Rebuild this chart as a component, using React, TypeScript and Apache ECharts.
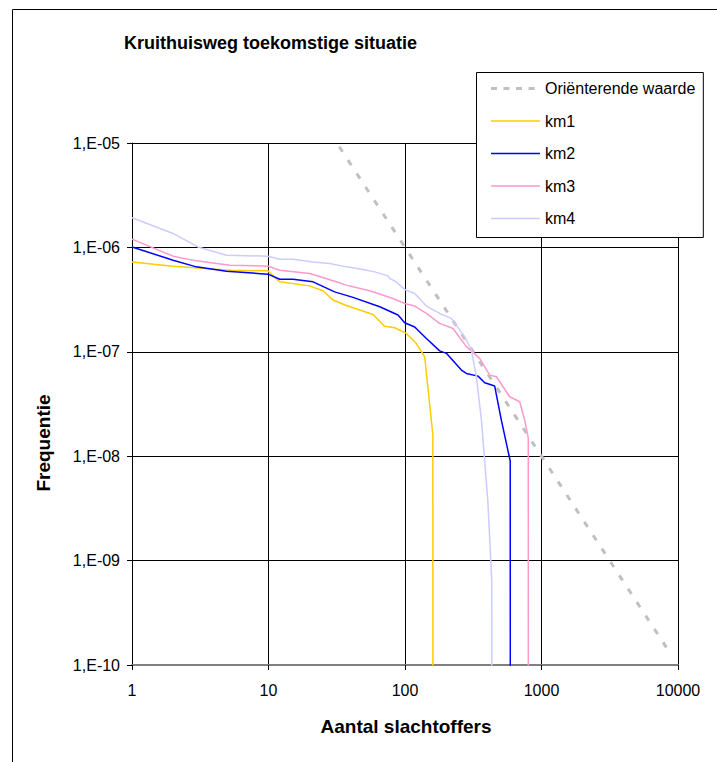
import React, { useEffect, useRef } from "react";
import * as echarts from "echarts";

const FONT = "'Liberation Sans', Arial, Helvetica, sans-serif";

const titleText = "Kruithuisweg toekomstige situatie";
const xTitle = "Aantal slachtoffers";
const yTitle = "Frequentie";

const seriesNames = ["Oriënterende waarde", "km1", "km2", "km3", "km4"];
const seriesColors = ["#C0C0C0", "#FFCC00", "#0000FF", "#FF99CC", "#CCCCFF"];

// Oriënterende waarde (N, F)
const orientN = [33, 9000];
const orientF = [9.2e-6, 1.23e-10];

// km1
const km1N = [1, 2.0, 5.2, 9.9, 12.1, 20, 25.1, 29.7, 37.2, 58.3, 71.0, 84.1, 102.4, 121.2, 139.4, 147, 160, 161];
const km1F = [7.26e-7, 6.61e-7, 6.05e-7, 5.96e-7, 4.68e-7, 4.28e-7, 3.84e-7, 3.13e-7, 2.78e-7, 2.28e-7, 1.76e-7, 1.7e-7, 1.5e-7, 1.2e-7, 8.96e-8, 4.6e-8, 1.6e-8, 1e-30];

// km2
const km2N = [1, 2.0, 2.96, 4.92, 9.9, 12.1, 15.1, 21.2, 30.5, 41.6, 65.3, 88.9, 99.5, 117.8, 143.5, 179.5, 201, 258.9, 281.7, 342.6, 383.7, 454, 508, 590, 598];
const km2F = [1.01e-6, 7.54e-7, 6.51e-7, 5.92e-7, 5.54e-7, 4.96e-7, 4.96e-7, 4.68e-7, 3.75e-7, 3.32e-7, 2.7e-7, 2.25e-7, 1.9e-7, 1.73e-7, 1.34e-7, 1.02e-7, 9.66e-8, 6.68e-8, 6.21e-8, 5.85e-8, 5.05e-8, 4.7e-8, 2.22e-8, 9e-9, 1e-30];

// km3
const km3N = [1, 2.0, 2.96, 5.2, 9.9, 12.1, 20, 31.4, 37.2, 41.6, 55.1, 81.7, 99.5, 117.8, 143.5, 179.5, 224.7, 281.7, 352.5, 417.4, 467.4, 584.8, 692, 753, 800, 807];
const km3F = [1.2e-6, 8.24e-7, 7.43e-7, 6.76e-7, 6.61e-7, 6.05e-7, 5.62e-7, 4.68e-7, 4.35e-7, 4.19e-7, 3.84e-7, 3.24e-7, 2.9e-7, 2.74e-7, 2.33e-7, 1.87e-7, 1.67e-7, 1.12e-7, 8.65e-8, 5.98e-8, 5.77e-8, 3.71e-8, 3.32e-8, 2.22e-8, 1.5e-8, 1e-30];

// km4
const km4N = [1, 2.0, 3.04, 4.92, 9.9, 12.1, 15.1, 21.2, 28.1, 37.2, 49.2, 60.0, 75.1, 77.3, 86.5, 99.5, 117.8, 143.5, 179.5, 218.6, 273.6, 306.5, 333.4, 363.1, 404, 432, 440];
const km4F = [1.92e-6, 1.36e-6, 1.01e-6, 8.42e-7, 8.24e-7, 7.71e-7, 7.71e-7, 7.26e-7, 7.01e-7, 6.51e-7, 6.14e-7, 5.83e-7, 5.34e-7, 5.04e-7, 4.68e-7, 3.95e-7, 3.62e-7, 2.74e-7, 2.33e-7, 2.09e-7, 1.39e-7, 1.04e-7, 5.77e-8, 2.22e-8, 3.8e-9, 6.5e-10, 1e-30];

const xMin = 1;
const xMax = 10000;
const yMin = 1e-10;
const yMax = 1e-5;

const zip = (a: number[], b: number[]) => a.map((v, i) => [v, b[i]]);

export default function App() {
  const ref = useRef<HTMLDivElement>(null);

  useEffect(() => {
    document.body.style.margin = "0";
    document.body.style.overflow = "hidden";
    if (!ref.current) return;
    const chart = echarts.init(ref.current, null, { renderer: "svg" });

    const dataSets = [
      zip(orientN, orientF),
      zip(km1N, km1F),
      zip(km2N, km2F),
      zip(km3N, km3F),
      zip(km4N, km4F),
    ];

    const series = dataSets.map((d, i) => ({
      type: "line",
      name: seriesNames[i],
      data: d,
      symbol: "none",
      showSymbol: false,
      clip: true,
      z: i === 0 ? 2 : 3,
      lineStyle:
        i === 0
          ? { color: seriesColors[i], width: 3, type: [6, 10] }
          : { color: seriesColors[i], width: 1.5 },
      itemStyle: { color: seriesColors[i] },
    }));

    const legendData = seriesNames.map((n, i) => ({
      name: n,
      itemStyle: { opacity: 0, color: "rgba(0,0,0,0)", borderWidth: 0 },
      lineStyle:
        i === 0
          ? { color: seriesColors[i], width: 3, type: [6, 6.5], opacity: 1 }
          : { color: seriesColors[i], width: 1.5, type: "solid", opacity: 1 },
    }));

    chart.setOption({
      animation: false,
      backgroundColor: "#fff",
      textStyle: { fontFamily: FONT },
      title: {
        text: titleText,
        left: 124,
        top: 34,
        padding: 0,
        textStyle: { fontFamily: FONT, fontSize: 18, fontWeight: "bold", color: "#000" },
      },
      grid: { left: 132, top: 143, right: 39, bottom: 97, containLabel: false },
      xAxis: {
        type: "log",
        logBase: 10,
        min: xMin,
        max: xMax,
        axisLine: { show: true, lineStyle: { color: "#808080", width: 2 } },
        axisTick: { show: true, length: 5, lineStyle: { color: "#000", width: 1 } },
        minorTick: { show: false },
        axisLabel: {
          margin: 17,
          fontSize: 16,
          color: "#000",
          fontFamily: FONT,
          formatter: (v: number) => String(Math.round(v)),
        },
        splitLine: { show: true, lineStyle: { color: "#000", width: 1 } },
      },
      yAxis: {
        type: "log",
        logBase: 10,
        min: yMin,
        max: yMax,
        axisLine: { show: true, lineStyle: { color: "#000", width: 1 } },
        axisTick: { show: true, length: 5, lineStyle: { color: "#000", width: 1 } },
        minorTick: { show: false },
        axisLabel: {
          margin: 12,
          fontSize: 16,
          color: "#000",
          fontFamily: FONT,
          formatter: (v: number) => {
            const e = -Math.round(Math.log10(v));
            return "1,E-" + String(e).padStart(2, "0");
          },
        },
        splitLine: { show: true, lineStyle: { color: "#000", width: 1 } },
      },
      legend: {
        show: true,
        orient: "vertical",
        left: 476.5,
        top: 72.5,
        data: legendData,
        backgroundColor: "#fff",
        borderColor: "#000",
        borderWidth: 1,
        padding: [8, 8, 11, 13],
        itemGap: 16.5,
        itemWidth: 49,
        itemHeight: 14,
        borderRadius: 0,
        itemStyle: { opacity: 0 },
        textStyle: { fontFamily: FONT, fontSize: 16, color: "#000", lineHeight: 16 },
        z: 10,
      },
      graphic: [
        {
          type: "rect",
          silent: true,
          z: -10,
          shape: { x: 12.5, y: 9.5, width: 740, height: 780 },
          style: { fill: "none", stroke: "#000", lineWidth: 1 },
        },
        {
          type: "text",
          silent: true,
          x: 406,
          y: 726,
          style: {
            text: xTitle,
            font: `bold 19px ${FONT}`,
            fill: "#000",
            align: "center",
            verticalAlign: "middle",
          },
        },
        {
          type: "text",
          silent: true,
          x: 43,
          y: 443,
          rotation: Math.PI / 2,
          style: {
            text: yTitle,
            font: `bold 19px ${FONT}`,
            fill: "#000",
            align: "center",
            verticalAlign: "middle",
          },
        },
      ],
      series,
    });

    return () => chart.dispose();
  }, []);

  return <div ref={ref} style={{ width: 717, height: 762 }} />;
}
